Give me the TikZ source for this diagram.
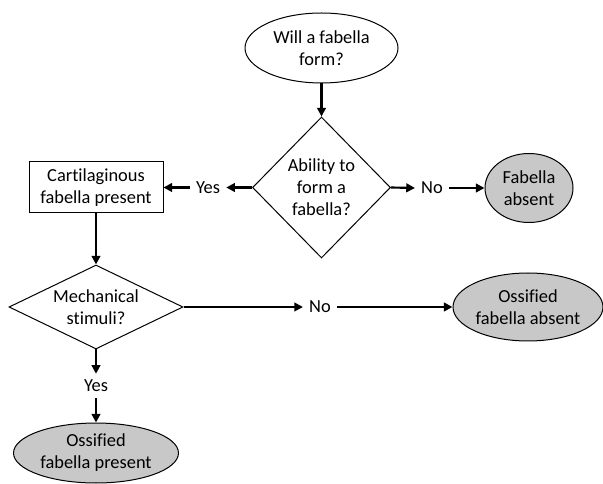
\documentclass[tikz,border=0pt]{standalone}
\usepackage{fontspec}
\setmainfont{Carlito}[RawFeature=-liga]
\usetikzlibrary{shapes.geometric,arrows.meta}
\begin{document}
\begin{tikzpicture}[x=0.75pt,y=-0.75pt,
 every node/.style={font=\fontsize{13.8}{16.5}\selectfont, align=center, inner sep=0pt},
 outl/.style={draw=black, line width=0.75pt},
 grayfill/.style={fill={rgb,255:red,200;green,200;blue,200}},
 arr/.style={line width=1.6pt, -{Triangle[length=6.5pt,width=6.5pt]}},
 lbl/.style={inner sep=4.5pt}]
\path[use as bounding box] (0,0) rectangle (603,484);
\node[ellipse,outl,minimum width=114.75pt,minimum height=52.5pt] (q1) at (321.5,48) {Will a fabella\\form?};
\node[diamond,outl,minimum width=103.5pt,minimum height=105.75pt] (d1) at (321.5,187.5) {Ability to\\form a\\fabella?};
\node[rectangle,outl,minimum width=100.5pt,minimum height=38.25pt] (cart) at (96,187.5) {Cartilaginous\\fabella present};
\node[ellipse,outl,grayfill,minimum width=66pt,minimum height=51.75pt] (fa) at (529,188) {Fabella\\absent};
\node[diamond,outl,shape aspect=2,minimum width=130.5pt,minimum height=63pt] (d2) at (96,307) {Mechanical\\stimuli?};
\node[ellipse,outl,grayfill,minimum width=112.5pt,minimum height=51pt] (oa) at (528,307) {Ossified\\fabella absent};
\node[ellipse,outl,grayfill,minimum width=123.75pt,minimum height=45pt] (op) at (96,453) {Ossified\\fabella present};
\node[lbl] (yes1) at (208,187.5) {Yes};
\node[lbl] (no1) at (432,188) {No};
\node[lbl] (no2) at (320,307) {No};
\node[lbl] (yes2) at (96,386) {Yes};
\draw[arr] (q1.south) -- (d1.north);
\draw[arr] (d1.west) -- (yes1.east);
\draw[arr] (yes1.west) -- (cart.east);
\draw[arr] (d1.east) -- (no1.west);
\draw[arr] (no1.east) -- (fa.west);
\draw[arr] (cart.south) -- (d2.north);
\draw[arr] (d2.east) -- (no2.west);
\draw[arr] (no2.east) -- (oa.west);
\draw[arr] (d2.south) -- (yes2.north);
\draw[arr] (yes2.south) -- (op.north);
\end{tikzpicture}
\end{document}
